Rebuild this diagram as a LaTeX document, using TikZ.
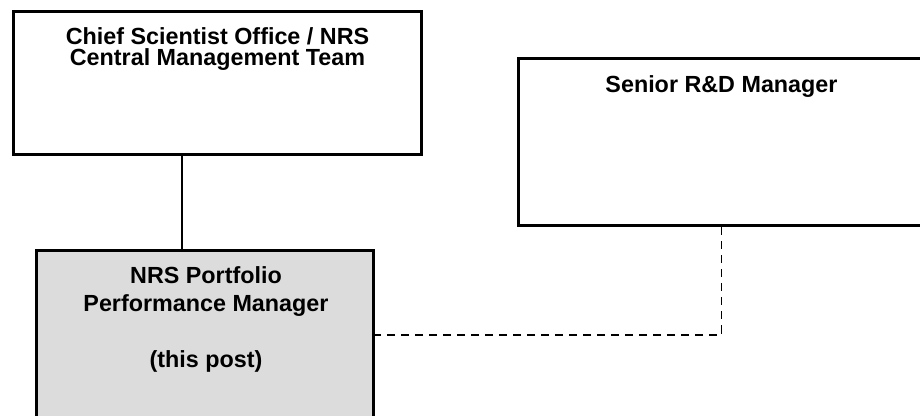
\documentclass[tikz,border=0pt]{standalone}
\usepackage{fontspec}
\setmainfont{Liberation Sans}
\begin{document}
\begin{tikzpicture}[x=0.75pt,y=-0.75pt,
    post/.style={draw=black,line width=2.25pt,inner sep=0pt},
    title/.style={anchor=north,align=center,inner sep=0pt,
      font=\bfseries\fontsize{17.5}{16}\selectfont}]
        \useasboundingbox (0,0) rectangle (920,416);

        % boxes
        \node[post,minimum width=306pt,minimum height=107.6pt] (cso) at (217.5,82.75) {};
        \node[post,minimum width=305.25pt,minimum height=125.25pt] (rdm) at (721.5,142.5) {};
        \node[post,fill={rgb,255:red,220;green,220;blue,220},
              minimum width=252.4pt,minimum height=126pt] (ppm) at (205.25,335) {};

        % titles
        \node[title] (csotext) at (217.5,27.2) {Chief Scientist Office / NRS\\Central Management Team};
        \node[title] (rdmtext) at (721.5,75.7) {Senior R\&D Manager};
        \node[title,font=\bfseries\fontsize{17.5}{20.8}\selectfont] (ppmtext) at (206,266.7)
         {NRS Portfolio\\Performance Manager\\[20.8pt](this post)};

        % links
        \draw[line width=1.2pt] ([xshift=-26.6pt]cso.south) -- ([xshift=-26.6pt]cso.south |- ppm.north);
        \draw[line width=1.1pt,dash pattern=on 6pt off 4.5pt] (rdm.south) |- (ppm.east);
       \end{tikzpicture}
\end{document}
